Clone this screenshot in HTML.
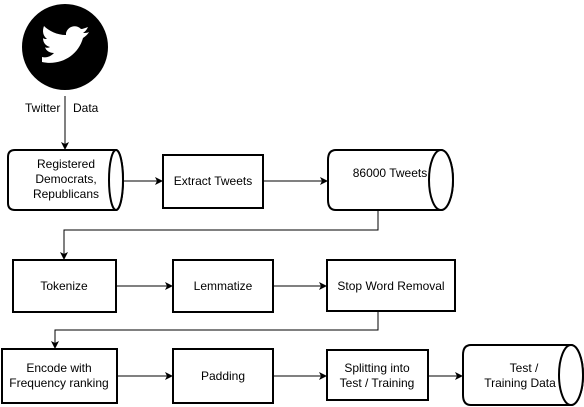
<!DOCTYPE html>
<html><head><style>body{margin:0;background:#fff}svg{display:block}text{font-family:"Liberation Sans",Arial,sans-serif;font-size:12px;fill:#000}</style></head><body>
<svg width="584" height="407" viewBox="0 0 584 407">
<defs><marker id="a" markerWidth="8" markerHeight="8" refX="7" refY="4" orient="auto" markerUnits="userSpaceOnUse"><path d="M0,0 L8,4 L0,8 L2,4 z" fill="#000"/></marker></defs>
<g stroke="#000" stroke-width="2" fill="#fff">
<circle cx="65" cy="47" r="42" fill="#000"/>
<path d="M42,62 C60,66 78,56 83,38 C86,36 88,34 89,32 C87,33 85,33 83,33 C86,31 87,29 88,27 C85,28 83,29 81,29 C76,24 68,26 66,33 L66,35 C57,35 49,31 44,26 C42,31 43,36 47,39 C45,39 44,39 43,38 C43,43 46,46 50,47 C48,48 46,48 45,47 C46,51 50,53 54,53 C50,57 46,58 42,57 Z" fill="#fff" stroke="none"/>
<path d="M8,157 Q8,150 15,150 L116,150 A7,30 0 0 1 116,210 L15,210 Q8,210 8,203 Z"/>
<ellipse cx="116" cy="180" rx="7" ry="30"/>
<rect x="163" y="155" width="100" height="53"/>
<path d="M336,150 L441,150 A12,30 0 0 1 441,210 L336,210 Q328,210 328,200 L328,160 Q328,150 336,150 Z"/>
<ellipse cx="441" cy="180" rx="12" ry="30"/>
<rect x="13" y="260" width="103" height="52"/>
<rect x="173" y="260" width="100" height="52"/>
<rect x="327" y="260" width="128" height="51"/>
<rect x="2" y="349" width="115" height="54"/>
<rect x="173" y="349" width="100" height="54"/>
<rect x="327" y="350" width="101" height="50"/>
<path d="M471,345 L571,345 A12,30 0 0 1 571,405 L471,405 Q463,405 463,395 L463,355 Q463,345 471,345 Z"/>
<ellipse cx="571" cy="375" rx="12" ry="30"/>
</g>
<g stroke="#000" stroke-width="1" fill="none">
<path d="M65,96 V149" marker-end="url(#a)"/>
<path d="M123,181 H162" marker-end="url(#a)"/>
<path d="M263,181 H327" marker-end="url(#a)"/>
<path d="M378,210 V230 H64 V259" marker-end="url(#a)"/>
<path d="M116,286 H172" marker-end="url(#a)"/>
<path d="M273,286 H326" marker-end="url(#a)"/>
<path d="M378,311 V330 H55 V348" marker-end="url(#a)"/>
<path d="M117,376 H172" marker-end="url(#a)"/>
<path d="M273,376 H326" marker-end="url(#a)"/>
<path d="M428,376 H462" marker-end="url(#a)"/>
</g>
<text x="25" y="112">Twitter</text><text x="73" y="112">Data</text>
<text x="66" y="168" text-anchor="middle">Registered</text>
<text x="66" y="183" text-anchor="middle">Democrats,</text>
<text x="66" y="198" text-anchor="middle">Republicans</text>
<text x="213" y="185" text-anchor="middle">Extract Tweets</text>
<text x="390" y="177" text-anchor="middle">86000 Tweets</text>
<text x="64" y="290" text-anchor="middle">Tokenize</text>
<text x="223" y="290" text-anchor="middle">Lemmatize</text>
<text x="391" y="290" text-anchor="middle">Stop Word Removal</text>
<text x="59" y="372" text-anchor="middle">Encode with</text>
<text x="59" y="387" text-anchor="middle">Frequency ranking</text>
<text x="223" y="380" text-anchor="middle">Padding</text>
<text x="377" y="372" text-anchor="middle">Splitting into</text>
<text x="377" y="387" text-anchor="middle">Test / Training</text>
<text x="524" y="372" text-anchor="middle">Test /</text>
<text x="520" y="387" text-anchor="middle">Training Data</text>
</svg>
</body></html>
